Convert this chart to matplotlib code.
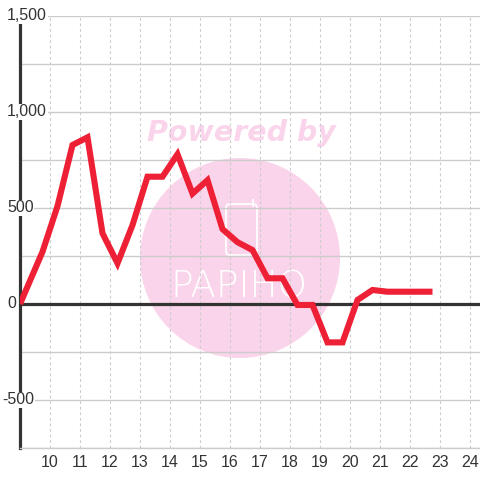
import matplotlib
matplotlib.use("Agg")
import matplotlib.pyplot as plt
from matplotlib.patches import Circle, FancyBboxPatch
from matplotlib.ticker import MultipleLocator

# series
x_vals = [9.0, 9.75, 10.25, 10.75, 11.25, 11.75, 12.25, 12.75, 13.25, 13.75,
          14.25, 14.75, 15.25, 15.75, 16.25, 16.75, 17.25, 17.75, 18.25, 18.75,
          19.25, 19.75, 20.25, 20.75, 21.25, 21.75, 22.25, 22.75]
y_vals = [0, 272, 510, 828, 868, 368, 212, 411, 663, 663,
          780, 575, 645, 390, 322, 281, 134, 134, -5, -5,
          -200, -200, 21, 73, 64, 64, 64, 64]
x_ticks = list(range(10, 25))
y_ticks = [-500, 0, 500, 1000, 1500]
y_ticklabels = ["-500", "0", "500", "1,000", "1,500"]

RED = "#EE2035"; INK = "#333333"; GRID = "#CCCCCC"; PINK = "#FAD4EA"
plt.rcParams.update({"font.family": ["Liberation Sans", "DejaVu Sans"]})

fig = plt.figure(figsize=(4.8, 4.8), dpi=100, facecolor="white")
ax = fig.add_axes([20 / 480, 32 / 480, 460 / 480, 432 / 480])
ax.set_xlim(9, 24.333); ax.set_ylim(-750, 1500)

# watermark (behind the grid)
ax.add_patch(Circle((2.40, 2.22), 1.0, transform=fig.dpi_scale_trans, facecolor=PINK, edgecolor="none", zorder=0.2))
ax.add_patch(FancyBboxPatch((2.26, 2.25), 0.31, 0.51, boxstyle="round,pad=0,rounding_size=0.04",
                            transform=fig.dpi_scale_trans, facecolor="none", edgecolor="white", lw=1.3, zorder=0.3))
ax.plot([2.53, 2.53], [2.74, 2.80], transform=fig.dpi_scale_trans, color="white", lw=1.3, zorder=0.3)
ax.text(2.39, 1.93, "PAPIHO", transform=fig.dpi_scale_trans, ha="center", va="center", fontsize=27,
        color="white", family="DejaVu Sans", fontweight="light", zorder=0.3)
ax.text(0.503, 0.722, "Powered by", transform=fig.transFigure, ha="center", va="center", fontsize=20.5,
        color=PINK, family="DejaVu Sans", fontweight="heavy", fontstyle="italic", zorder=0.3)

# grid
ax.yaxis.set_minor_locator(MultipleLocator(250))
ax.set_yticks(y_ticks)
ax.set_xticks(x_ticks)
ax.grid(axis="y", which="both", color=GRID, lw=1.0, ls="-", zorder=0.4)
ax.grid(axis="x", which="major", color=GRID, lw=0.8, ls=(0, (2.5, 2.5)), zorder=0.4)
ax.set_axisbelow(True)

for sp in ("top", "right"):
    ax.spines[sp].set_visible(False)
ax.spines["bottom"].set_color(GRID); ax.spines["bottom"].set_linewidth(1.0)
ax.spines["left"].set_color(INK); ax.spines["left"].set_linewidth(2.3); ax.spines["left"].set_zorder(2)
ax.axhline(0, color=INK, lw=2.3, zorder=2)

ax.plot(x_vals, y_vals, color=RED, lw=4.4, solid_joinstyle="miter", solid_capstyle="butt", zorder=3)

# ticks
ax.tick_params(axis="both", which="both", length=0)
ax.tick_params(axis="x", labelsize=11.5, labelcolor=INK, pad=5)
ax.set_yticklabels([])
for v, lab in zip(y_ticks, y_ticklabels):
    xo = 2.5 if lab.startswith("-") else 7
    ax.annotate(lab, xy=(0, v), xycoords=("figure pixels", "data"), xytext=(xo * 0.72, 0),
                textcoords="offset points", ha="left", va="center", fontsize=11.5, color=INK, zorder=4,
                bbox=dict(boxstyle="square,pad=0.05", fc="white", ec="none"), annotation_clip=False)

fig.savefig("out.png", dpi=100, facecolor="white")
